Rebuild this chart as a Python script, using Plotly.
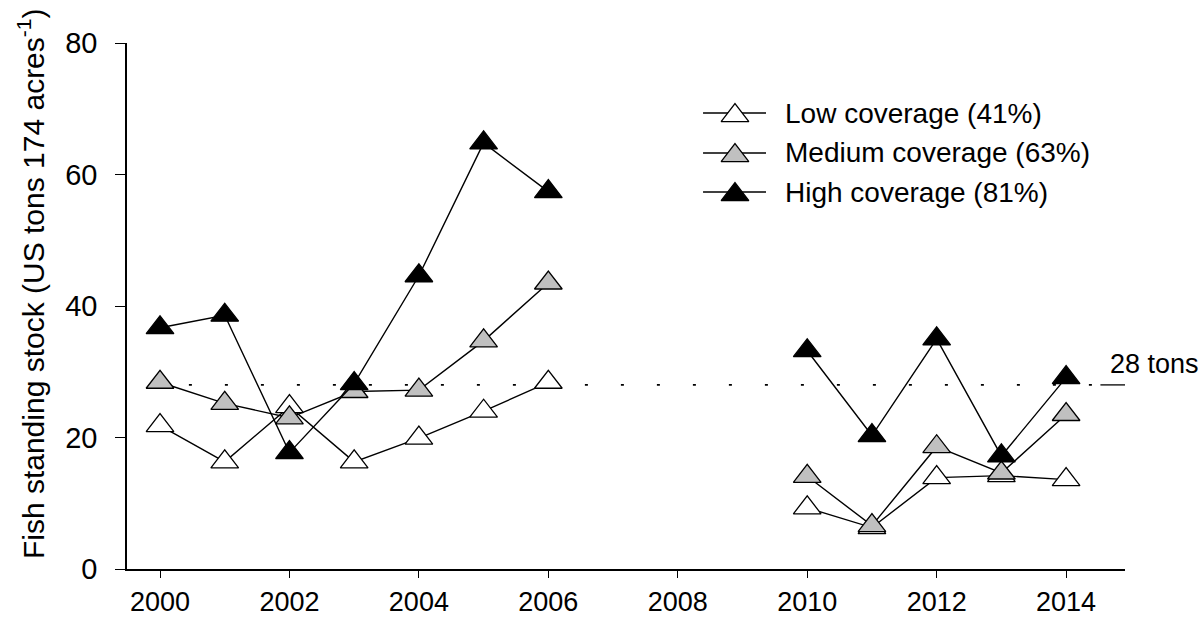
import plotly.graph_objects as go

# Survey years (no sampling 2007-2009)
years = list(range(2000, 2015))

# Fish standing stock, US tons per 174 acres
low_cov = [21.8, 16.3, 24.7, 16.3, 19.9, 24.0, 28.4, None, None, None, 9.3, 6.3, 13.9, 14.2, 13.6]
med_cov = [28.4, 25.2, 23.0, 27.0, 27.2, 34.7, 43.5, None, None, None, 14.1, 6.6, 18.6, 14.6, 23.5]
high_cov = [36.7, 38.6, 17.7, 28.2, 44.6, 64.8, 57.4, None, None, None, 33.2, 20.3, 35.0, 17.2, 29.1]

series_names = ["Low coverage (41%)", "Medium coverage (63%)", "High coverage (81%)"]
series_fill = ["white", "#c0c0c0", "black"]

threshold = 28  # reference stock level, tons
threshold_label = "28 tons"

FONT = "Liberation Sans, Arial, sans-serif"
MARKER_SIZE = 24

# key layout, as fractions of the plotting area
KEY_LINE_X = (0.5772, 0.6403)
KEY_MARK_X = 0.6092
KEY_TEXT_X = 0.6573
KEY_ROWS_Y = [0.8669, 0.7909, 0.7167]

fig = go.Figure()

for name, vals, fill in zip(series_names, [low_cov, med_cov, high_cov], series_fill):
    fig.add_trace(go.Scatter(
        x=years, y=vals, name=name, mode="lines+markers",
        connectgaps=False, showlegend=False,
        line=dict(color="black", width=1.4),
        marker=dict(symbol="triangle-up", size=MARKER_SIZE, color=fill,
                    line=dict(color="black", width=1.3)),
    ))

# key drawn on an overlay axis pair spanning the plotting area
for name, fill, ky in zip(series_names, series_fill, KEY_ROWS_Y):
    fig.add_shape(type="line", xref="x2", yref="y2",
                  x0=KEY_LINE_X[0], x1=KEY_LINE_X[1], y0=ky, y1=ky,
                  line=dict(color="black", width=1.4), layer="below")
    fig.add_trace(go.Scatter(
        x=[KEY_MARK_X], y=[ky - 0.005], xaxis="x2", yaxis="y2", mode="markers",
        showlegend=False, hoverinfo="skip",
        marker=dict(symbol="triangle-up", size=MARKER_SIZE, color=fill,
                    line=dict(color="black", width=1.3)),
    ))
    fig.add_annotation(xref="x2", yref="y2", x=KEY_TEXT_X, y=ky, text=name,
                       showarrow=False, xanchor="left", yanchor="middle",
                       font=dict(family=FONT, size=28, color="black"))

# dotted reference line with a short solid tail and its label
fig.add_shape(type="line", xref="x", yref="y", x0=1999.89, x1=2014.4,
              y0=threshold, y1=threshold, layer="below",
              line=dict(color="black", width=1.6, dash="3px,33px"))
fig.add_shape(type="line", xref="x", yref="y", x0=2014.53, x1=2014.91,
              y0=threshold, y1=threshold, layer="below",
              line=dict(color="black", width=1.3))
fig.add_annotation(x=2014.65, y=threshold, xref="x", yref="y", text=threshold_label,
                   showarrow=False, xanchor="left", yanchor="bottom", yshift=4,
                   font=dict(family=FONT, size=27, color="black"))

fig.add_annotation(xref="paper", yref="paper", x=-0.096, y=0.542,
                   text="Fish standing stock (US tons 174 acres<sup>-1</sup>)",
                   textangle=-90, showarrow=False, xanchor="center", yanchor="middle",
                   font=dict(family=FONT, size=30, color="black"))

fig.update_layout(
    width=1203, height=618,
    margin=dict(l=127, r=78, t=43, b=49, autoexpand=False),
    paper_bgcolor="white", plot_bgcolor="white",
    font=dict(family=FONT, size=28, color="black"),
    showlegend=False,
    xaxis=dict(range=[1999.49, 2014.91], tickmode="array",
               tickvals=list(range(2000, 2015, 2)), tickformat="d",
               automargin=False,
               showgrid=False, zeroline=False, showline=True, linecolor="black",
               linewidth=1.6, ticks="outside", ticklen=7, tickwidth=1.3,
               tickcolor="black", ticklabelstandoff=1,
               tickfont=dict(family=FONT, size=27)),
    yaxis=dict(range=[0, 80], tickmode="array", tickvals=[0, 20, 40, 60, 80],
               automargin=False,
               showgrid=False, zeroline=False, showline=True, linecolor="black",
               linewidth=1.6, ticks="outside", ticklen=10, tickwidth=1.3,
               tickcolor="black", ticklabelstandoff=12,
               tickfont=dict(family=FONT, size=29)),
    xaxis2=dict(overlaying="x", range=[0, 1], visible=False, fixedrange=True),
    yaxis2=dict(overlaying="y", range=[0, 1], visible=False, fixedrange=True),
)

fig.write_html("out.html")
